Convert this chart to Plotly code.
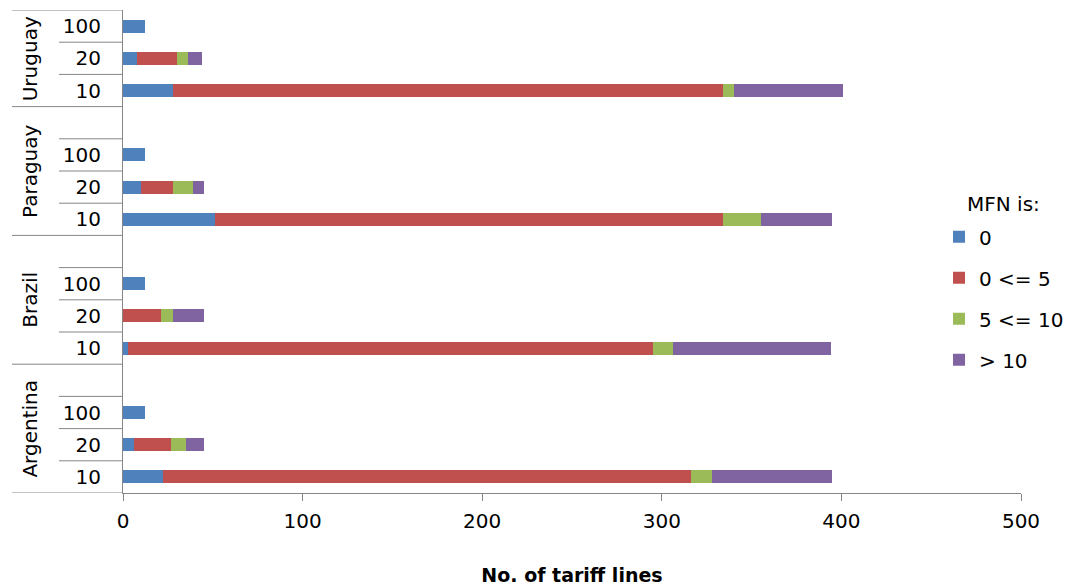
import plotly.graph_objects as go

countries = ["Argentina", "Brazil", "Paraguay", "Uruguay"]
subcats = ["10", "20", "100"]
series_names = ["0", "0 <= 5", "5 <= 10", "> 10"]
series_colors = ["#4F81BD", "#C0504D", "#9BBB59", "#8064A2"]

# order: per country -> 10, 20, 100
mfn_zero = [22, 6, 12, 3, 0, 12, 51, 10, 12, 28, 8, 12]
mfn_0_5 = [294, 21, 0, 292, 21, 0, 283, 18, 0, 306, 22, 0]
mfn_5_10 = [12, 8, 0, 11, 7, 0, 21, 11, 0, 6, 6, 0]
mfn_gt10 = [67, 10, 0, 88, 17, 0, 40, 6, 0, 61, 8, 0]

x_ticks = [0, 100, 200, 300, 400, 500]
x_title = "No. of tariff lines"
legend_title = "MFN is:"

FONT = "DejaVu Sans"
GRAY = "#868686"

# categories
keys = [f"{c}|{s}" for c in countries for s in subcats]
cat_order = []
for i, c in enumerate(countries):
    for s in subcats:
        cat_order.append(f"{c}|{s}")
    if i < len(countries) - 1:
        cat_order.append(f"{c}|gap")

fig = go.Figure()
for name, col, vals in zip(series_names, series_colors,
                           [mfn_zero, mfn_0_5, mfn_5_10, mfn_gt10]):
    fig.add_trace(go.Bar(
        y=keys, x=vals, name=name, orientation="h",
        marker=dict(color=col, line=dict(width=0)),
        legendgroup=name,
    ))

# separators for the two-level category axis
shapes = []
outer_x0 = -0.1236
inner_x0 = -0.0713
idx = {k: i for i, k in enumerate(cat_order)}
group_bounds = []
for i, c in enumerate(countries):
    members = [k for k in cat_order if k.startswith(c + "|")]
    lo = idx[members[0]] - 0.5
    hi = idx[members[-1]] + 0.5
    group_bounds.append((c, lo, hi))
    for k in members[:-1]:
        yb = idx[k] + 0.5
        shapes.append(dict(type="line", xref="paper", yref="y", x0=inner_x0, x1=0,
                           y0=yb, y1=yb, line=dict(color=GRAY, width=1)))
full_lines = sorted(set([b[1] for b in group_bounds] + [b[2] for b in group_bounds]))
for yb in full_lines:
    shapes.append(dict(type="line", xref="paper", yref="y", x0=outer_x0, x1=0,
                       y0=yb, y1=yb, line=dict(color=GRAY, width=1)))

annotations = []
for c, lo, hi in group_bounds:
    annotations.append(dict(
        x=-0.1036, xref="paper", y=(lo + hi) / 2, yref="y",
        text=c, textangle=-90, showarrow=False,
        font=dict(family=FONT, size=20, color="#000"),
        xanchor="center", yanchor="middle",
    ))
# legend heading
annotations.append(dict(
    x=0.938, xref="paper", y=0.598, yref="paper", text=legend_title,
    showarrow=False, xanchor="left", yanchor="middle",
    font=dict(family=FONT, size=20, color="#000"),
))

fig.update_layout(
    width=1076, height=586,
    margin=dict(l=123, r=55, t=10, b=93, autoexpand=False),
    barmode="stack", bargap=0.6,
    plot_bgcolor="white", paper_bgcolor="white",
    font=dict(family=FONT, size=20, color="#000"),
    shapes=shapes, annotations=annotations,
    legend=dict(
        x=0.9087, xanchor="left", y=0.571, yanchor="top",
        traceorder="grouped", tracegroupgap=12, itemwidth=30,
        font=dict(family=FONT, size=20), bgcolor="rgba(0,0,0,0)",
    ),
    showlegend=True,
)
fig.update_xaxes(
    range=[0, 500], tickvals=x_ticks, showgrid=False, zeroline=False,
    showline=True, linecolor=GRAY, linewidth=1, automargin=False,
    ticks="outside", ticklen=7, tickcolor=GRAY, ticklabelstandoff=3,
    tickfont=dict(family=FONT, size=20, color="#000"),
    title=dict(text=f"<b>{x_title}</b>", font=dict(family=FONT, size=19), standoff=38),
)
fig.update_yaxes(
    type="category", categoryorder="array", categoryarray=cat_order,
    range=[-0.5, len(cat_order) - 0.5], automargin=False,
    tickvals=keys, ticktext=[k.split("|")[1] for k in keys],
    showgrid=False, zeroline=False, showline=True, linecolor=GRAY, linewidth=1,
    ticks="", ticklabelstandoff=17,
    tickfont=dict(family=FONT, size=20, color="#000"),
)

fig.write_html("out.html", config={"displayModeBar": False},
               post_script="document.body.style.margin='0';document.body.style.overflow='hidden';")
